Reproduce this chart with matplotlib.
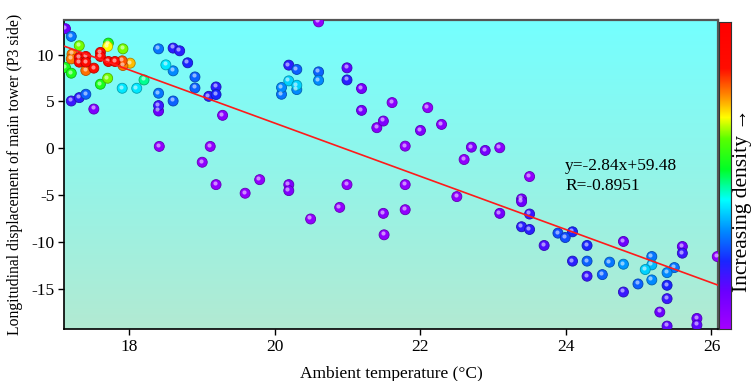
import numpy as np
import matplotlib
matplotlib.use("Agg")
import matplotlib.pyplot as plt
from matplotlib.colors import LinearSegmentedColormap, to_rgb
from matplotlib.transforms import offset_copy

plt.rcParams['font.family'] = ['Liberation Serif', 'DejaVu Serif']

# Ambient temperature (°C)
temp = [17.12, 17.20, 17.31, 17.71, 17.70, 17.91, 17.21, 17.20, 17.31, 17.40,
        17.31, 17.40, 17.60, 17.60, 17.71, 17.80, 17.90, 17.91, 18.01, 17.51,
        17.40, 17.12, 17.20, 17.70, 17.60, 17.90, 18.10, 18.20, 18.40, 18.60,
        18.69, 18.50, 18.60, 18.80, 18.40, 18.40, 18.40, 18.60, 17.20, 17.31,
        17.40, 17.51, 18.90, 18.90, 19.19, 19.09, 19.19, 19.28,
        18.41, 19.11, 19.00, 19.19, 19.59, 19.79, 20.19, 20.19, 20.49,
        20.60, 20.19, 20.30, 20.60, 20.60, 20.19, 20.30, 20.30, 20.09, 20.09,
        20.99, 20.99, 21.19, 21.19, 21.61, 21.49, 21.40, 22.10, 22.00, 22.29,
        21.79, 22.70, 22.89, 23.09, 22.60, 20.99, 21.79, 20.89, 21.49, 21.79,
        22.50, 23.09, 21.50,
        23.50, 23.39, 23.39, 23.50, 23.39, 23.50, 23.70, 23.89, 23.99, 24.09,
        24.29, 24.79, 24.09, 24.29, 24.29, 24.50, 24.60, 24.79, 24.79, 24.99,
        25.09, 25.18, 25.18, 25.18, 25.39, 25.49, 25.39, 25.39, 25.29, 25.39,
        25.60, 25.60, 25.80, 25.80, 26.08]

# Longitudinal displacement of main tower, P3 side
disp = [12.77, 11.95, 10.95, 11.23, 10.88, 10.62, 10.06, 9.55, 9.70, 9.81,
        9.20, 9.20, 10.24, 9.81, 9.27, 9.27, 9.34, 8.84, 9.09, 8.56,
        8.31, 8.63, 8.02, 7.48, 6.84, 6.41, 6.41, 7.30, 10.62, 10.70,
        10.41, 8.91, 8.27, 9.13, 5.88, 4.56, 3.98, 5.05, 5.05, 5.41,
        5.77, 4.19, 7.62, 6.44, 6.55, 5.55, 5.74, 3.52,
        0.20, 0.20, -1.49, -3.88, -4.80, -3.35, -3.88, -4.52, -7.55,
        13.50, 8.88, 8.42, 8.16, 7.27, 7.20, 6.73, 6.27, 6.49, 5.77,
        8.59, 7.30, 6.38, 4.05, 4.88, 2.91, 2.20, 4.34, 1.91, 2.55,
        0.23, 0.12, -0.23, 0.06, -1.20, -3.88, -3.88, -6.31, -6.95, -6.56,
        -5.16, -6.95, -9.24,
        -3.02, -5.41, -5.70, -7.02, -8.38, -8.67, -10.38, -9.06, -9.53, -8.92,
        -10.38, -9.95, -12.05, -12.05, -13.66, -13.49, -12.16, -12.38, -15.35, -14.49,
        -12.95, -11.56, -12.45, -14.06, -13.28, -12.74, -14.63, -16.06, -17.49, -18.99,
        -10.49, -11.20, -18.17, -18.88, -11.56]

# Relative point density (0 = sparse, 1 = dense)
density = [0.12, 0.30, 0.63, 0.55, 0.69, 0.63, 0.77, 0.77, 0.92, 0.92,
           0.92, 0.92, 0.92, 0.92, 0.92, 0.92, 0.80, 0.77, 0.73, 0.85,
           0.78, 0.55, 0.55, 0.63, 0.55, 0.40, 0.40, 0.47, 0.30, 0.20,
           0.20, 0.40, 0.32, 0.22, 0.30, 0.18, 0.12, 0.28, 0.18, 0.20,
           0.28, 0.08, 0.28, 0.28, 0.20, 0.20, 0.22, 0.06,
           0.04, 0.04, 0.04, 0.04, 0.04, 0.04, 0.08, 0.08, 0.04,
           0.04, 0.20, 0.28, 0.28, 0.32, 0.38, 0.38, 0.32, 0.32, 0.30,
           0.14, 0.20, 0.10, 0.10, 0.05, 0.08, 0.06, 0.04, 0.08, 0.06,
           0.04, 0.08, 0.10, 0.06, 0.04, 0.04, 0.04, 0.04, 0.06, 0.04,
           0.04, 0.10, 0.04,
           0.04, 0.10, 0.12, 0.18, 0.20, 0.20, 0.16, 0.26, 0.26, 0.22,
           0.22, 0.12, 0.20, 0.28, 0.18, 0.28, 0.30, 0.33, 0.18, 0.28,
           0.38, 0.30, 0.36, 0.32, 0.32, 0.30, 0.22, 0.18, 0.12, 0.14,
           0.12, 0.18, 0.12, 0.14, 0.04]

# Linear fit reported on the chart
slope, intercept = -2.84, 59.48
r_value = -0.8951

x_ticks = [18, 20, 22, 24, 26]
y_ticks = [-15, -10, -5, 0, 5, 10]
x_lim = (17.1, 26.09)
y_lim = (-19.3, 13.7)

density_cmap = LinearSegmentedColormap.from_list("density", [
    (0.00, (0.64, 0.00, 1.00)),
    (0.12, (0.42, 0.00, 1.00)),
    (0.22, (0.10, 0.15, 1.00)),
    (0.32, (0.00, 0.55, 1.00)),
    (0.42, (0.00, 1.00, 1.00)),
    (0.52, (0.00, 1.00, 0.15)),
    (0.62, (0.35, 1.00, 0.00)),
    (0.69, (1.00, 1.00, 0.00)),
    (0.76, (1.00, 0.55, 0.00)),
    (0.85, (1.00, 0.05, 0.00)),
    (1.00, (1.00, 0.00, 0.00)),
])

W, H = 751, 381
fig = plt.figure(figsize=(W / 100, H / 100), dpi=100)
ax = fig.add_axes([64 / W, 1 - 329 / H, 654 / W, 309 / H])
cax = fig.add_axes([719 / W, 1 - 329 / H, 12 / W, 307 / H])

# Vertical background gradient inside the plotting area
top_c = np.array(to_rgb("#74ffff"))
bot_c = np.array(to_rgb("#b2ead2"))
t = np.linspace(0, 1, 256)[:, None]
grad = (top_c[None, :] * (1 - t) + bot_c[None, :] * t)[:, None, :]
ax.imshow(grad, extent=[0, 1, 0, 1], transform=ax.transAxes,
          aspect="auto", zorder=0, interpolation="bilinear")

x = np.array(temp)
y = np.array(disp)
d = np.array(density)
order = np.argsort(d, kind="stable")
x, y, d = x[order], y[order], d[order]
cols = density_cmap(d)
edge = cols.copy()
edge[:, :3] *= 0.7

# Shaded sphere-like markers: body, then a small specular highlight
ax.scatter(x, y, s=52, c=cols, edgecolors=edge, linewidths=0.6, zorder=3)
hl = offset_copy(ax.transData, fig=fig, x=-1.3, y=1.6, units="dots")
ax.scatter(x, y, s=9, c="white", alpha=0.55, linewidths=0,
           transform=hl, zorder=4)

xl = np.array(x_lim)
ax.plot(xl, slope * xl + intercept, color="#ff1a1a", lw=1.2, zorder=5)

ax.text(0.766, 0.527, f"y={slope:.2f}x+{intercept:.2f}", transform=ax.transAxes,
        fontsize=12.5, va="center", ha="left", zorder=6)
ax.text(0.766, 0.463, f"R={r_value:.4f}", transform=ax.transAxes,
        fontsize=12.5, va="center", ha="left", zorder=6)

ax.set_xlim(*x_lim)
ax.set_ylim(*y_lim)
ax.set_xticks(x_ticks)
ax.set_yticks(y_ticks)
ax.set_xticklabels([str(v) for v in x_ticks])
ax.set_yticklabels([str(v) for v in y_ticks])
ax.tick_params(direction="out", length=4, width=1, labelsize=12.5, pad=3)
for side in ["left", "bottom"]:
    ax.spines[side].set_color("black")
    ax.spines[side].set_linewidth(1.2)
for side in ["top", "right"]:
    ax.spines[side].set_color("#555555")
    ax.spines[side].set_linewidth(1.6)

ax.set_xlabel("Ambient temperature (\u00b0C)", fontsize=12.5, labelpad=8)
ax.set_ylabel("Longitudinal displacement of main tower (P3 side)", fontsize=11.3,
              labelpad=6)

# Colour bar without ticks
bar = np.linspace(0, 1, 256)[:, None]
cax.imshow(bar, cmap=density_cmap, aspect="auto", origin="lower",
           extent=[0, 1, 0, 1])
cax.set_xticks([])
cax.set_yticks([])
for s in cax.spines.values():
    s.set_color("#333333")
    s.set_linewidth(0.8)

fig.text(743 / W, 1 - 200 / H, "Increasing density \u2192", rotation=90,
         fontsize=15.5, va="center", ha="center")

fig.savefig("out.png", dpi=100)
